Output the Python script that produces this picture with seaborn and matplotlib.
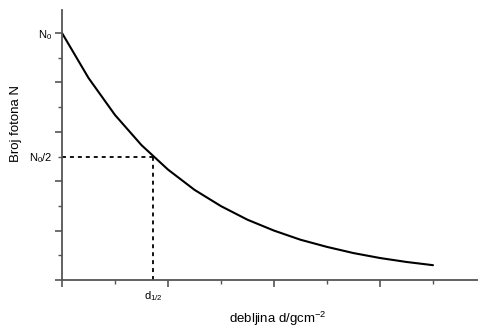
import seaborn as sns
import pandas as pd
import matplotlib
matplotlib.use("Agg")
import matplotlib.pyplot as plt
import matplotlib.transforms as mtransforms

# debljina (g/cm^2) i broj fotona, procitano s grafa
thickness = [0.0, 0.25, 0.5, 0.75, 1.0, 1.25, 1.5, 1.75, 2.0, 2.25, 2.5, 2.75, 3.0, 3.25, 3.5]
photons = [10.0, 8.18, 6.68, 5.46, 4.47, 3.65, 2.99, 2.44, 2.00, 1.63, 1.34, 1.09, 0.89, 0.73, 0.60]
half_d = 0.86
half_n = 5.0

y_major = [0, 2, 4, 6, 8, 10]
y_major_labels = ["", "", "", "", "", r"N$_0$"]
y_minor = [1, 3, 5, 7, 9]
y_minor_labels = ["", "", r"N$_0$/2", "", ""]
x_major = [0, 1, 2, 3]
x_minor = [0.5, 1.5, 2.5, 3.5]

if __name__ == "__main__":
    sns.set_theme(style="white")
    plt.rcParams["font.family"] = ["Liberation Sans", "DejaVu Sans"]
    plt.rcParams["mathtext.fontset"] = "custom"
    plt.rcParams["mathtext.rm"] = "Liberation Sans"
    plt.rcParams["mathtext.it"] = "Liberation Sans"
    plt.rcParams["text.color"] = "black"
    plt.rcParams["axes.labelcolor"] = "black"
    plt.rcParams["xtick.labelcolor"] = "black"
    plt.rcParams["ytick.labelcolor"] = "black"

    df = pd.DataFrame({"d": thickness, "N": photons})

    fig = plt.figure(figsize=(4.78, 3.27), dpi=100)
    ax = fig.add_axes([62 / 478, 47 / 327, (494 - 62) / 478, 270.5 / 327])

    sns.lineplot(data=df, x="d", y="N", color="black", linewidth=1.5, ax=ax)

    # isprekidane linije za poluvrijednost
    ax.plot([0, half_d], [half_n, half_n], color="black", linestyle=(0, (2.2, 2.2)), linewidth=1.3)
    ax.plot([half_d, half_d], [0, half_n], color="black", linestyle=(0, (2.2, 2.2)), linewidth=1.3)

    ax.set_xlim(0, (494 - 62) / 106)
    ax.set_ylim(0, 270.5 / 24.7)

    sns.despine(ax=ax)
    for s in ["left", "bottom"]:
        ax.spines[s].set_color("#555555")
        ax.spines[s].set_linewidth(1.3)

    ax.set_yticks(y_major, labels=y_major_labels)
    ax.set_yticks(y_minor, labels=y_minor_labels, minor=True)
    ax.set_xticks(x_major, labels=["", "", "", ""])
    ax.set_xticks(x_minor, minor=True)
    ax.tick_params(which="major", direction="out", length=5, width=1.2, color="#555555",
                   labelsize=8, pad=2, left=True, bottom=True)
    ax.tick_params(which="minor", direction="out", length=3, width=1.0, color="#555555",
                   labelsize=8, pad=4, left=True, bottom=True)

    trans = mtransforms.blended_transform_factory(ax.transData, fig.transFigure)
    ax.text(half_d, 1 - 296 / 327, r"d$_{1/2}$", transform=trans, ha="center", va="center", fontsize=8)

    ax.set_xlabel(r"debljina d/gcm$^{-2}$", fontsize=9.5)
    ax.set_ylabel("Broj fotona N", fontsize=9.5)
    ax.xaxis.set_label_coords(0.5, -0.11)
    ax.yaxis.set_label_coords(-0.093, 0.58)

    fig.savefig("out.png", dpi=100)
